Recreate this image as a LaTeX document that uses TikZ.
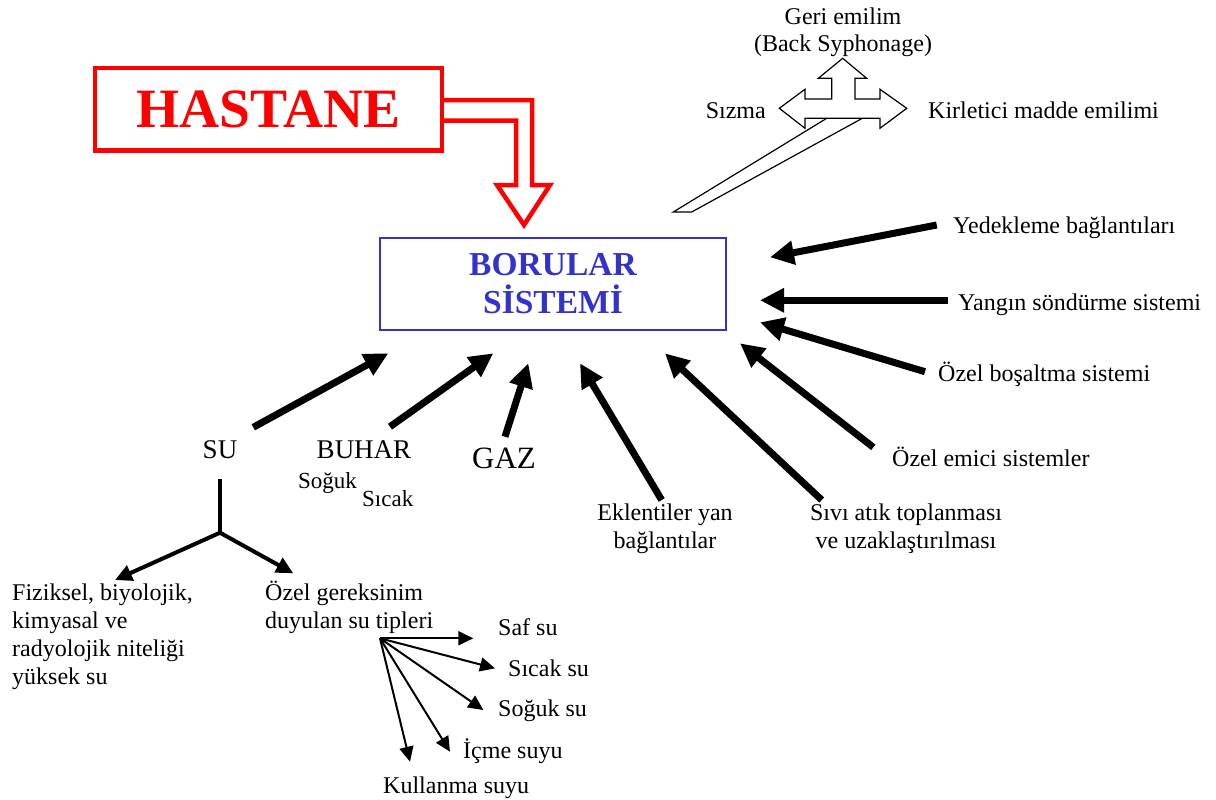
\documentclass[tikz,border=0pt]{standalone}
\usepackage{fontspec}
\setmainfont{Liberation Serif}
\usetikzlibrary{arrows.meta}
\definecolor{hospred}{RGB}{255,0,0}
\definecolor{pipeblue}{RGB}{51,51,204}

\begin{document}
\begin{tikzpicture}[x=1pt,y=-1pt,
  lbl/.style={inner sep=0pt, font=\fontsize{24}{28}\selectfont},
  feed/.style={line width=7pt, -{Triangle[length=24pt,width=23pt]}},
  branch/.style={line width=4pt, -{Triangle[length=17pt,width=16pt]}},
  fan/.style={line width=2pt, -{Triangle[length=15pt,width=14pt]}},
  outline/.style={draw, line width=1.2pt, fill=white, line join=miter}
]
\useasboundingbox (0,0) rectangle (1216,800);

% --- hospital block and its hollow bent arrow ---
\draw[hospred, line width=4.5pt, line join=miter]
  (442,100) -- (532,100) -- (532,185) -- (550,185) -- (524,225)
  -- (497,185) -- (516,185) -- (516,120.5) -- (442,120.5);
\node (hastane) [draw=hospred, line width=4.5pt, fill=white, inner sep=0pt,
  minimum width=347pt, minimum height=82.5pt, text=hospred,
  font=\fontsize{55.5}{60}\selectfont\bfseries] at (268.3,109.2) {HASTANE};

% --- piping system ---
\node (boru) [draw=pipeblue, line width=2pt, inner sep=0pt,
  minimum width=346.7pt, minimum height=92pt, text=pipeblue, align=center,
  font=\fontsize{33.5}{38.3}\selectfont\bfseries] at (553,283.7) {BORULAR\\SİSTEMİ};

% --- back-flow hazard: pipe and three-way arrow ---
\draw[outline] (826.7,118.3) -- (673.3,212) -- (691.7,212) -- (862.3,118.3) -- cycle;
\draw[outline] (779.3,108.3) -- (805,89.3) -- (805,99) -- (831.7,99) -- (831.7,78.3)
  -- (818.3,78.3) -- (842.7,58.3) -- (866.7,78.3) -- (855,78.3) -- (855,99)
  -- (880,99) -- (880,89.3) -- (906.7,108.3) -- (880,128.3) -- (880,118.3)
  -- (805,118.3) -- (805,128.3) -- cycle;
\node (geri) [lbl, anchor=base] at (843,25) {Geri emilim};
\node (back) [lbl, anchor=base] at (843,51.7) {(Back Syphonage)};
\node (sizma) [lbl, anchor=base east] at (766,118.3) {Sızma};
\node (kirl) [lbl, anchor=base west] at (928,118.3) {Kirletici madde emilimi};

% --- feeds into the piping system ---
\node (yedek) [lbl, anchor=base west] at (953,233.3) {Yedekleme bağlantıları};
\node (yangin) [lbl, anchor=base west] at (958,310) {Yangın söndürme sistemi};
\node (bosalt) [lbl, anchor=base west] at (938,381.7) {Özel boşaltma sistemi};
\node (emici) [lbl, anchor=base west] at (892,466.7) {Özel emici sistemler};
\node (eklen) [lbl, anchor=base, align=center] at (665,548.3) {Eklentiler yan\\bağlantılar};
\node (sivi) [lbl, anchor=base, align=center] at (906,548.3) {Sıvı atık toplanması\\ve uzaklaştırılması};
\node (su) [lbl, anchor=base, font=\fontsize{27}{30}\selectfont] at (220,458.3) {SU};
\node (buhar) [lbl, anchor=base, font=\fontsize{27}{30}\selectfont] at (364,458.3) {BUHAR};
\node (soguk) [lbl, anchor=base west, font=\fontsize{23}{26}\selectfont] at (298,488.3) {Soğuk};
\node (sicak) [lbl, anchor=base west, font=\fontsize{23}{26}\selectfont] at (362,506.7) {Sıcak};
\node (gaz) [lbl, anchor=base, font=\fontsize{31}{34}\selectfont] at (504,468.3) {GAZ};

\coordinate (yedekT) at (936.7,225);   \coordinate (yedekH) at (770,257.3);
\coordinate (yanginT) at (948.3,300.3); \coordinate (yanginH) at (760,300.3);
\coordinate (bosaltT) at (925,371.7);  \coordinate (bosaltH) at (760,322.3);
\coordinate (emiciT) at (873.3,447.3); \coordinate (emiciH) at (740,343.3);
\coordinate (siviT) at (821.7,500);    \coordinate (siviH) at (665,353.3);
\coordinate (eklenT) at (661.7,500);   \coordinate (eklenH) at (580,363.3);
\coordinate (gazT) at (505,436.7);     \coordinate (gazH) at (528.3,363.3);
\coordinate (buharT) at (390,426.7);   \coordinate (buharH) at (493.3,353.3);
\coordinate (suT) at (253.3,427.3);    \coordinate (suH) at (388.3,353.3);

\foreach \a in {yedek,yangin,bosalt,emici,sivi,eklen,gaz,buhar,su}
  \draw[feed] (\a T) -- (\a H);

% --- water types ---
\coordinate (suTop) at (220,479.3);
\coordinate (suFork) at (220,532.7);
\coordinate (fizH) at (115,580);
\coordinate (ozelH) at (293.3,573.3);
\draw[line width=4pt] (suTop) -- (suFork);
\draw[branch] (suFork) -- (fizH);
\draw[branch] (suFork) -- (ozelH);

\node (fiz) [lbl, anchor=base west, align=left] at (12,684)
  {Fiziksel, biyolojik,\\kimyasal ve\\radyolojik niteliği\\yüksek su};
\node (ozel) [lbl, anchor=base west, align=left] at (265,628)
  {Özel gereksinim\\duyulan su tipleri};

\node (saf) [lbl, anchor=base west] at (498,635) {Saf su};
\node (sicaksu) [lbl, anchor=base west] at (508,676.7) {Sıcak su};
\node (soguksu) [lbl, anchor=base west] at (498,716.7) {Soğuk su};
\node (icme) [lbl, anchor=base west] at (463,758.3) {İçme suyu};
\node (kullan) [lbl, anchor=base west] at (383,793.3) {Kullanma suyu};

\coordinate (fanO) at (380,638.3);
\coordinate (safH) at (473.3,638.3);
\coordinate (sicaksuH) at (495,668.3);
\coordinate (soguksuH) at (483.3,710);
\coordinate (icmeH) at (450,751.7);
\coordinate (kullanH) at (410,761.7);
\foreach \b in {saf,sicaksu,soguksu,icme,kullan}
  \draw[fan] (fanO) -- (\b H);
\end{tikzpicture}
\end{document}
